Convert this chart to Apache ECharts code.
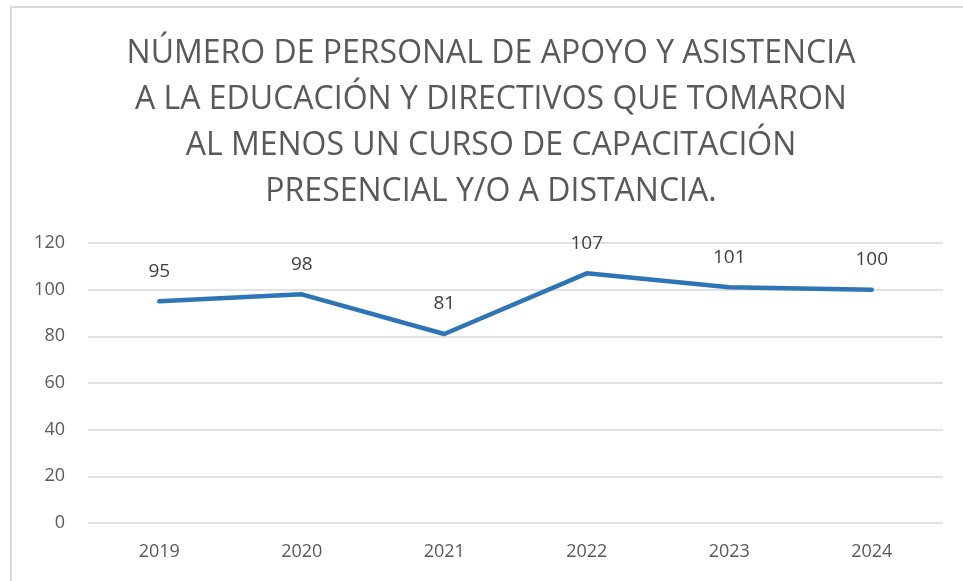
<!DOCTYPE html>
<html><head><meta charset="utf-8">
<script src="https://cdn.jsdelivr.net/npm/echarts@6/dist/echarts.min.js"></script>
<style>html,body{margin:0;padding:0;background:#fff}#c{width:963px;height:581px}</style>
</head><body><div id="c"></div>
<script>
const titleLines = ["NÚMERO DE PERSONAL DE APOYO Y ASISTENCIA","A LA EDUCACIÓN Y DIRECTIVOS QUE TOMARON","AL MENOS UN CURSO DE CAPACITACIÓN","PRESENCIAL Y/O A DISTANCIA."];
const years = ["2019","2020","2021","2022","2023","2024"];
const values = [95, 98, 81, 107, 101, 100];
const yTicks = {min:0, max:120, interval:20};
const font = "'Open Sans', 'Liberation Sans', sans-serif";
const chart = echarts.init(document.getElementById('c'), null, {renderer:'canvas'});
chart.setOption({
  animation:false,
  graphic:[{type:'polyline', shape:{points:[[11,581],[11,7],[963,7]]}, style:{stroke:'#d9d9d9', lineWidth:2, fill:null}, silent:true}],
  title:{text:titleLines.join('\n'), left:491, textAlign:'center', top:31, padding:0,
    textStyle:{fontFamily:font, fontSize:32, fontWeight:'normal', color:'#595959', lineHeight:46}},
  grid:{left:88, right:20, top:243, bottom:58, containLabel:false},
  xAxis:{type:'category', data:years, boundaryGap:true,
    axisLine:{show:false}, axisTick:{show:false},
    axisLabel:{fontFamily:font, fontSize:18, color:'#595959', margin:20}},
  yAxis:{type:'value', min:yTicks.min, max:yTicks.max, interval:yTicks.interval,
    axisLine:{show:false}, axisTick:{show:false},
    splitLine:{lineStyle:{color:'#d9d9d9', width:1.5}},
    axisLabel:{fontFamily:font, fontSize:18, color:'#595959', margin:23}},
  series:[{type:'line', data:values, symbol:'circle', symbolSize:1, showSymbol:true,
    itemStyle:{color:'#2e75b6'},
    lineStyle:{color:'#2e75b6', width:4.5, cap:'round', join:'round'},
    label:{show:true, position:'top', distance:20, fontFamily:font, fontSize:19, color:'#404040'}}]
});
</script></body></html>
